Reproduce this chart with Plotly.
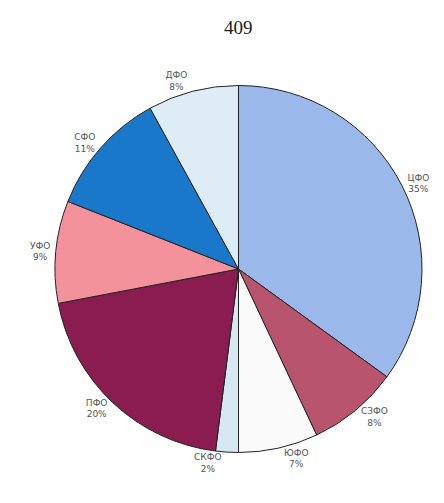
import plotly.graph_objects as go

labels = ["ЦФО", "СЗФО", "ЮФО", "СКФО", "ПФО", "УФО", "СФО", "ДФО"]
values = [35, 8, 7, 2, 20, 9, 11, 8]
colors = ["#9ab8ea", "#b9546f", "#fbfbfb", "#d6e9f2", "#8a1c50", "#f3929a", "#1a78cb", "#deecf6"]
title_text = "409"

fig = go.Figure(go.Pie(
    labels=labels,
    values=values,
    sort=False,
    direction="clockwise",
    rotation=0,
    marker=dict(colors=colors, line=dict(color="#222222", width=1)),
    textposition="outside",
    texttemplate="%{label}<br>%{percent:.0%}",
    textfont=dict(family="DejaVu Sans", size=9, color="#555555"),
    showlegend=False,
    automargin=False,
    domain=dict(x=[47/444, 414/444], y=[56/503, 428/503]),
    hoverinfo="label+percent",
))

fig.add_annotation(
    text=title_text, x=230/444, y=1 - 20/503, xref="paper", yref="paper",
    showarrow=False, font=dict(family="Liberation Serif", size=19, color="#222222"),
    xanchor="center", yanchor="middle",
)

fig.update_layout(
    width=444, height=503,
    margin=dict(l=0, r=0, t=0, b=0),
    paper_bgcolor="white", plot_bgcolor="white",
)

fig.write_html("out.html")
